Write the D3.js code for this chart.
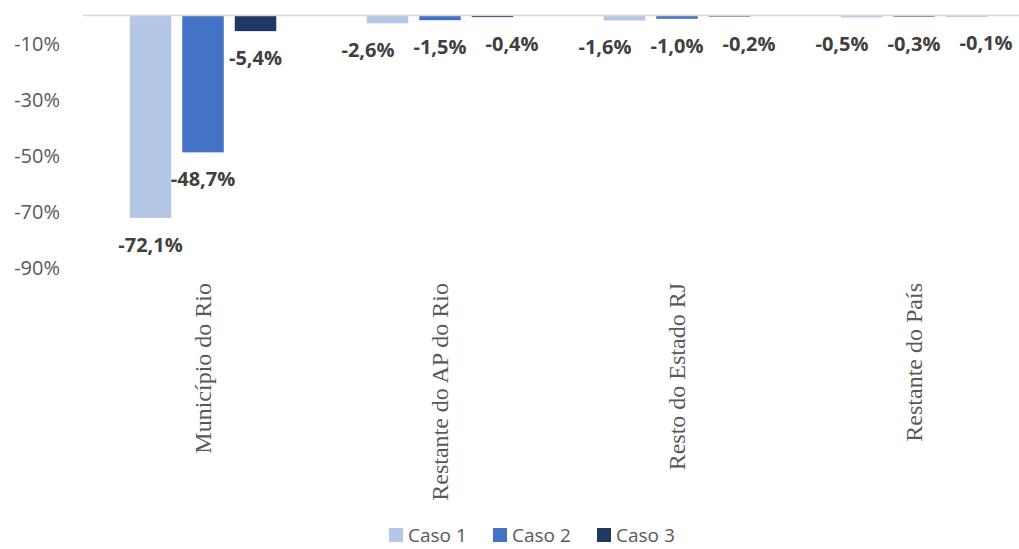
<!DOCTYPE html>
<html>
<head>
<meta charset="utf-8">
<script src="https://cdn.jsdelivr.net/npm/d3@7"></script>
<style>
  body { margin: 0; background: #fff; }
  svg { display: block; }
</style>
</head>
<body>
<div id="chart"></div>
<script>
const categories = ["Município do Rio", "Restante do AP do Rio", "Resto do Estado RJ", "Restante do País"];
const seriesNames = ["Caso 1", "Caso 2", "Caso 3"];
const caso1 = [-72.1, -2.6, -1.6, -0.5];
const caso2 = [-48.7, -1.5, -1.0, -0.3];
const caso3 = [-5.4, -0.4, -0.2, -0.1];
const yTicks = [-10, -30, -50, -70, -90];
const colors = ["#b4c7e7", "#4472c4", "#203864"];

const width = 1019, height = 549;
const svg = d3.select("#chart").append("svg")
    .attr("width", width)
    .attr("height", height);

const values = [caso1, caso2, caso3];
const data = categories.flatMap((c, i) =>
    seriesNames.map((s, j) => ({ cat: c, series: s, value: values[j][i] })));

const x = d3.scaleBand().domain(categories).range([84.5, 1032.5]);
const y = d3.scaleLinear().domain([-90, 0]).range([268, 16]);
const color = d3.scaleOrdinal(seriesNames, colors);

// bars sit at a 52.5px step inside each 237px band
const step = 52.5, bw = 41.5;
const inner = d3.scaleBand().domain(seriesNames)
    .range([x.bandwidth() / 2 - step * 1.5, x.bandwidth() / 2 + step * 1.5])
    .paddingInner((step - bw) / step).paddingOuter((step - bw) / step / 2);

const fmt = (v) => d3.format(".1f")(v).replace("\u2212", "-").replace(".", ",") + "%";

// y tick labels
svg.append("g")
    .selectAll("text")
    .data(yTicks)
    .join("text")
    .attr("x", 60)
    .attr("y", (d) => y(d))
    .attr("dy", "0.35em")
    .attr("text-anchor", "end")
    .style("font-family", "'Open Sans', sans-serif")
    .style("font-size", "20px")
    .style("fill", "#595959")
    .text((d) => d + "%");

// bars
svg.append("g")
    .selectAll("rect")
    .data(data)
    .join("rect")
    .attr("x", (d) => x(d.cat) + inner(d.series))
    .attr("y", y(0))
    .attr("width", inner.bandwidth())
    .attr("height", (d) => y(d.value) - y(0))
    .attr("fill", (d) => color(d.series));

// zero axis line
svg.append("line")
    .attr("x1", 83).attr("x2", width)
    .attr("y1", y(0) - 0.5).attr("y2", y(0) - 0.5)
    .attr("stroke", "#d9d9d9")
    .attr("stroke-width", 1.5);

// value labels
const labels = svg.append("g")
    .selectAll("text")
    .data(data)
    .join("text")
    .attr("x", (d) => x(d.cat) + inner(d.series) + inner.bandwidth() / 2)
    .attr("y", (d) => y(d.value) + 27)
    .attr("dy", "0.35em")
    .attr("text-anchor", "middle")
    .style("font-family", "'Open Sans', sans-serif")
    .style("font-weight", "bold")
    .style("font-size", "20px")
    .style("fill", "#404040")
    .text((d) => fmt(d.value));

// push overlapping labels apart (like the spreadsheet does)
const minGap = 19;
labels.each(function (d) {
    d.cx = x(d.cat) + inner(d.series) + inner.bandwidth() / 2;
    d.cy = y(d.value) + 27;
    d.w = this.getComputedTextLength();
});
for (const c of categories) {
    const g = data.filter((d) => d.cat === c);
    for (let k = 0; k < 20; k++) {
        for (let i = 0; i < g.length - 1; i++) {
            const a = g[i], b = g[i + 1];
            if (Math.abs(a.cy - b.cy) > 20) continue;
            const need = (a.w + b.w) / 2 + minGap - (b.cx - a.cx);
            if (need > 0) {
                if (i === 0) { a.cx -= need; }
                else { b.cx += need; }
            }
        }
    }
}
labels.attr("x", (d) => d.cx);

// category labels (rotated)
svg.append("g")
    .selectAll("text")
    .data(categories)
    .join("text")
    .attr("transform", (d) => `translate(${x(d) + x.bandwidth() / 2 + 8},283) rotate(-90)`)
    .attr("text-anchor", "end")
    .style("font-family", "'Liberation Serif', 'Times New Roman', serif")
    .style("font-size", "24px")
    .style("fill", "#595959")
    .text((d) => d);

// legend
const legendX = [389, 493, 597];
const legend = svg.append("g")
    .selectAll("g")
    .data(seriesNames)
    .join("g")
    .attr("transform", (d, i) => `translate(${legendX[i]},528)`);
legend.append("rect")
    .attr("width", 14).attr("height", 14)
    .attr("y", 0)
    .attr("fill", (d) => color(d));
legend.append("text")
    .attr("x", 19).attr("y", 7)
    .attr("dy", "0.35em")
    .style("font-family", "'Open Sans', sans-serif")
    .style("font-size", "19px")
    .style("fill", "#595959")
    .text((d) => d);
</script>
</body>
</html>
